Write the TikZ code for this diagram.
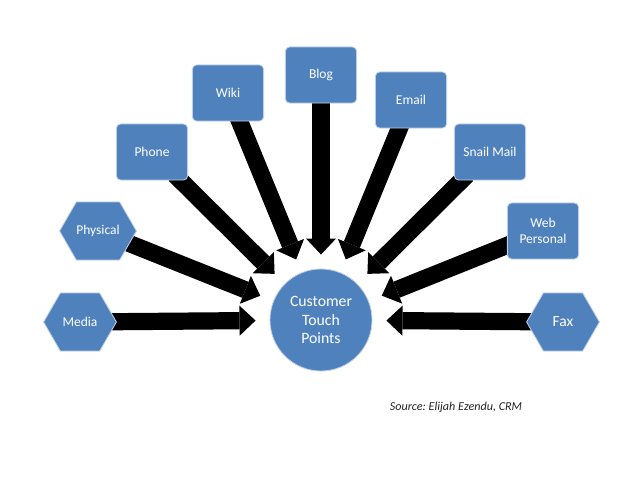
\documentclass[tikz,border=0pt]{standalone}
\usepackage{fontspec}
\setmainfont{Carlito}
\usepackage{tikz}
\usetikzlibrary{shapes.symbols, arrows.meta, backgrounds}
\definecolor{tpblue}{RGB}{79,129,189}
\definecolor{tpedge}{RGB}{190,208,232}
\definecolor{srcdark}{RGB}{35,35,35}
\tikzset{
  tpbox/.style={rectangle, draw=tpedge, fill=tpblue, text=white,
    minimum width=1.78cm, minimum height=1.4cm, align=center,
    font=\fontsize{9.6}{11}\selectfont, rounded corners=3pt, line width=0.6pt},
  tphex/.style={signal, signal to=east and west, signal pointer angle=120,
    draw=tpedge, fill=tpblue, text=white, inner sep=0pt,
    minimum width=1.82cm, minimum height=1.45cm,
    font=\fontsize{9.6}{11}\selectfont, line width=0.6pt},
  hub/.style={circle, draw=tpedge, fill=tpblue, text=white, inner sep=0pt,
    minimum size=2.55cm, align=center,
    font=\fontsize{11.2}{13}\selectfont, line width=0.6pt},
  fatarrow/.style={line width=0.43cm, shorten >=0.35cm, shorten <=-0.2cm,
    -{Triangle[width=0.75cm, length=0.4cm, line width=0pt]}}
}
\begin{document}
\begin{tikzpicture}[x=0.025cm, y=-0.025cm]
  \useasboundingbox (0,0) rectangle (638,479);

  % Hub
  \node[hub] (ctp) at (321,320) {Customer\\Touch\\Points};

  % Touch points
  \node[tphex] (media) at (80,322) {Media};
  \node[tphex] (physical) at (98,231) {Physical};
  \node[tpbox] (phone) at (152,152) {Phone};
  \node[tpbox] (wiki) at (228,93) {Wiki};
  \node[tpbox] (blog) at (321,75) {Blog};
  \node[tpbox] (email) at (411,100) {Email};
  \node[tpbox] (snail) at (490,152) {Snail Mail};
  \node[tpbox] (webp) at (543,231) {Web\\Personal};
  \node[tphex, font=\fontsize{11}{13}\selectfont] (fax) at (563,322) {Fax};

  % Arrows into the hub
  \begin{scope}[on background layer]
    \foreach \src in {media, physical, phone, wiki, blog, email, snail, webp, fax}
      \draw[fatarrow] (\src) -- (ctp);
  \end{scope}

  % Source
  \node[font=\fontsize{8.6}{10}\selectfont\itshape, text=srcdark] (src) at (456,407)
    {Source:\ Elijah Ezendu, CRM};
\end{tikzpicture}
\end{document}
